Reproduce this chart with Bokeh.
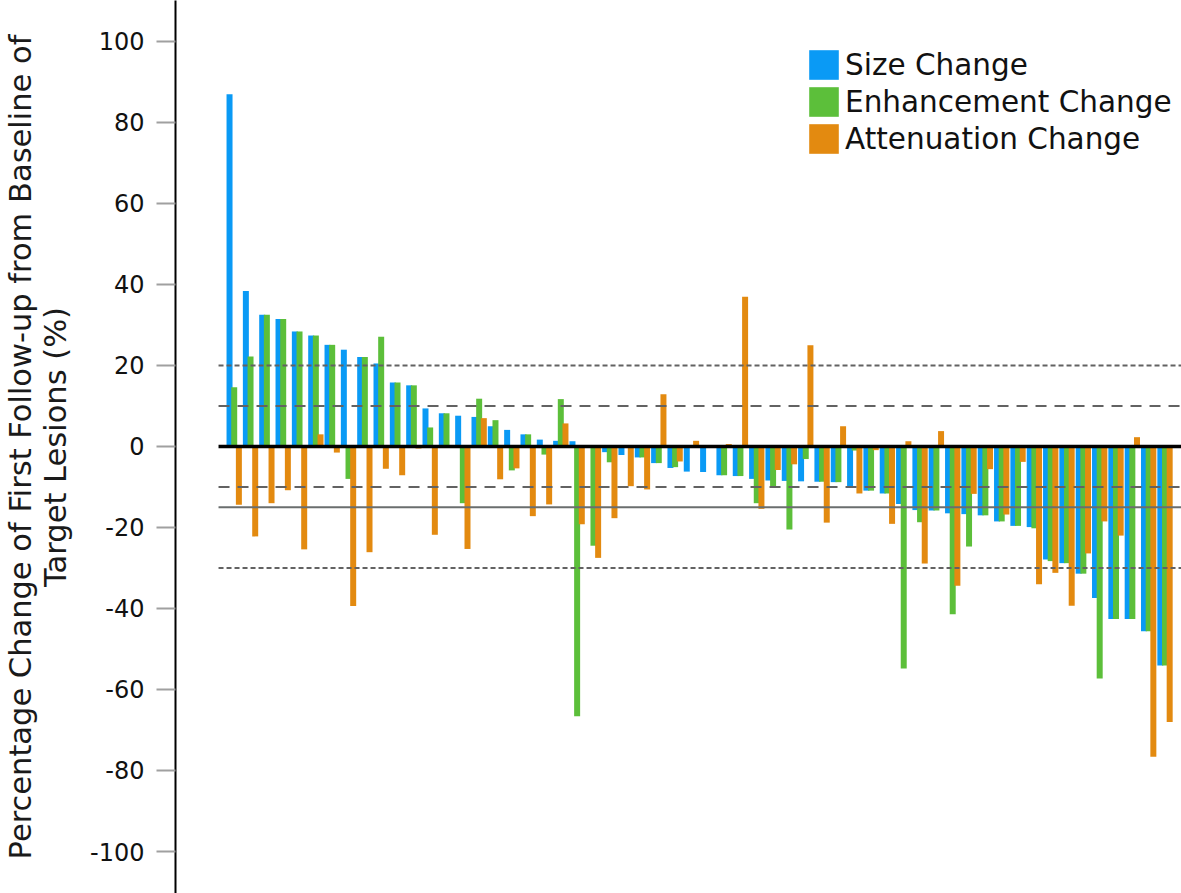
from bokeh.plotting import figure
from bokeh.models import Range1d, Legend, LegendItem, ColumnDataSource, FixedTicker
from bokeh.transform import dodge
from bokeh.embed import file_html
from bokeh.resources import INLINE

# ---- data ----
patients = list(range(1, 59))
size_change = [87.0, 38.4, 32.5, 31.5, 28.4, 27.4, 25.1, 23.9, 22.1, 20.5,
               15.8, 15.1, 9.4, 8.2, 7.6, 7.3, 5.0, 4.1, 3.0, 1.7,
               1.4, 1.3, 0.0, -1.4, -2.1, -2.7, -4.1, -5.3, -6.2, -6.3,
               -7.1, -7.3, -8.0, -8.4, -8.5, -8.6, -8.7, -8.8, -10.1, -10.9,
               -11.6, -14.2, -15.7, -15.8, -16.5, -16.7, -17.0, -18.5, -19.6, -19.9,
               -27.9, -28.8, -31.4, -37.4, -42.6, -42.6, -45.6, -54.1]
enhancement_change = [14.6, 22.2, 32.5, 31.5, 28.4, 27.4, 25.1, -8.0, 22.1, 27.1,
                      15.8, 15.1, 4.7, 8.2, -14.0, 11.8, 6.5, -5.9, 3.0, -2.0,
                      11.7, -66.6, -24.5, -3.9, 0.0, -2.7, -4.1, -5.1, 0.0, 0.0,
                      -7.1, -7.3, -14.0, -9.8, -20.5, -3.1, -8.7, -8.8, -1.0, -10.9,
                      -11.6, -54.8, -18.7, -15.8, -41.4, -24.7, -17.0, -18.5, -19.6, -20.2,
                      -28.3, -28.8, -31.4, -57.3, -42.6, -42.6, -45.6, -54.1]
attenuation_change = [-14.4, -22.2, -14.0, -10.8, -25.4, 3.0, -1.5, -39.4, -26.1, -5.5,
                      -7.1, -0.5, -21.8, 0.0, -25.3, 7.0, -8.1, -5.4, -17.2, -14.3,
                      5.7, -19.2, -27.5, -17.7, -9.8, -10.6, 12.9, -3.7, 1.4, 0.0,
                      0.6, 37.0, -15.4, -5.8, -4.4, 25.0, -18.8, 5.0, -11.6, -0.9,
                      -19.1, 1.3, -28.9, 3.8, -34.4, -11.7, -5.6, -16.8, -3.8, -34.0,
                      -31.2, -39.3, -26.4, -18.5, -22.0, 2.3, -76.6, -68.0]
fine_dash_levels = [20, -30]
long_dash_levels = [10, -10]
solid_levels = [-15]
zero_level = [0]
y_ticks = [-100, -80, -60, -40, -20, 0, 20, 40, 60, 80, 100]
series_names = ["Size Change", "Enhancement Change", "Attenuation Change"]

# ---- styling ----
BLUE = "#0a9af5"
GREEN = "#5cbf3a"
ORANGE = "#e38a10"
FONT = "DejaVu Sans"
X_START, X_END = -2.595, 59.01
LINE_X0 = 0.04
OFFSET = 0.286
BAR_W = 0.367

src = ColumnDataSource(dict(pt=patients, size=size_change,
                            enh=enhancement_change, att=attenuation_change))

p = figure(width=1181, height=893,
           x_range=Range1d(X_START, X_END), y_range=Range1d(-110.37, 110.12),
           output_backend="svg", toolbar_location=None,
           x_axis_location=None,
           min_border_left=175, min_border_right=0,
           min_border_top=0, min_border_bottom=0)
p.outline_line_color = None
p.xgrid.visible = False
p.ygrid.visible = False
p.background_fill_color = "white"
p.border_fill_color = "white"

r_size = p.vbar(x=dodge("pt", -OFFSET, range=p.x_range), top="size", width=BAR_W,
                source=src, fill_color=BLUE, line_color=None)
r_enh = p.vbar(x=dodge("pt", 0.0, range=p.x_range), top="enh", width=BAR_W,
               source=src, fill_color=GREEN, line_color=None)
r_att = p.vbar(x=dodge("pt", OFFSET, range=p.x_range), top="att", width=BAR_W,
               source=src, fill_color=ORANGE, line_color=None)

def hlines(levels, **kw):
    n = len(levels)
    p.segment(x0=[LINE_X0] * n, y0=levels, x1=[X_END] * n, y1=levels, **kw)

hlines(fine_dash_levels, line_color="#626262", line_width=2.2, line_dash="5 3")
hlines(long_dash_levels, line_color="#626262", line_width=2.2, line_dash="11 8")
hlines(solid_levels, line_color="#6a6e6e", line_width=2)
hlines(zero_level, line_color="black", line_width=3.5)

# ---- y axis ----
ax = p.yaxis[0]
ax.ticker = FixedTicker(ticks=y_ticks)
ax.major_label_overrides = {t: str(t) for t in y_ticks}
ax.minor_tick_line_color = None
ax.major_tick_in = 0
ax.major_tick_out = 19
ax.major_tick_line_color = "#a0a0a0"
ax.major_tick_line_width = 2
ax.axis_line_color = "black"
ax.axis_line_width = 2
ax.major_label_text_font = FONT
ax.major_label_text_font_size = "24px"
ax.major_label_text_color = "#111111"
ax.major_label_standoff = 12
ax.axis_label = "Percentage Change of First Follow-up from Baseline of\nTarget Lesions (%)"
ax.axis_label_text_font = FONT
ax.axis_label_text_font_size = "30.5px"
ax.axis_label_text_font_style = "normal"
ax.axis_label_text_color = "#1a1a1a"
ax.axis_label_text_line_height = 1.0
ax.axis_label_standoff = 14

# ---- legend ----
legend = Legend(items=[LegendItem(label=series_names[0], renderers=[r_size]),
                       LegendItem(label=series_names[1], renderers=[r_enh]),
                       LegendItem(label=series_names[2], renderers=[r_att])],
                location=(630, 736))
legend.label_text_font = FONT
legend.label_text_font_size = "29.5px"
legend.label_text_color = "#111111"
legend.glyph_width = 37
legend.glyph_height = 37
legend.label_standoff = 3
legend.spacing = 0
legend.padding = 0
legend.margin = 0
legend.border_line_color = None
legend.background_fill_alpha = 0
p.add_layout(legend)

open("out.html", "w").write(file_html(p, INLINE))
